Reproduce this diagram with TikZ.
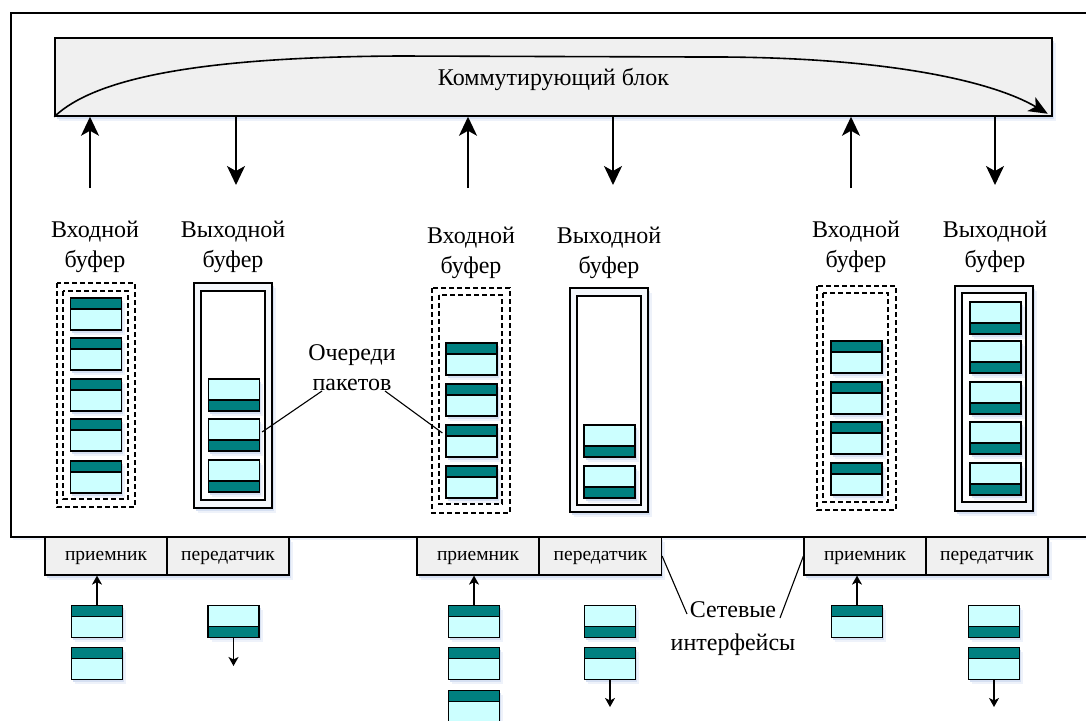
\documentclass[tikz,border=0pt]{standalone}
\usepackage{fontspec}
\setmainfont{Liberation Serif}
\usetikzlibrary{arrows.meta,shadows}

\definecolor{pktlight}{HTML}{CCFFFF}
\definecolor{pktdark}{HTML}{008080}
\definecolor{blockgray}{HTML}{F0F0F0}
\definecolor{bufshade}{HTML}{F4F7FB}
\definecolor{glowfar}{HTML}{EEF2FA}
\definecolor{glownear}{HTML}{D6E0F2}

\tikzset{
  glowshadow/.style={
      general shadow={fill=glowfar, shadow xshift=3.5pt, shadow yshift=-4.5pt},
      general shadow={fill=glownear, shadow xshift=1.5pt, shadow yshift=-2.5pt}},
  frame/.style={draw, line width=1.6pt, fill=white,
      general shadow={fill=glowfar, shadow xshift=2pt, shadow yshift=-3pt}},
  block/.style={draw, line width=1.5pt, fill=blockgray, inner sep=0pt,
      text height=18pt, text depth=2pt,
      font=\fontsize{24}{30}\selectfont, glowshadow},
  lab/.style={align=center, inner sep=0pt, font=\fontsize{24}{30}\selectfont},
  iface/.style={draw, line width=1.2pt, fill=blockgray, inner sep=0pt,
      minimum width=122pt, minimum height=38pt, text height=13pt, text depth=4pt,
      font=\fontsize{19.5}{23}\selectfont, glowshadow},
  inbuf/.style={draw, dashed, line width=1.4pt, dash pattern=on 5pt off 3pt},
  outbufo/.style={draw, line width=1.4pt, fill=bufshade, glowshadow},
  outbufi/.style={draw, line width=1.4pt, fill=white},
  pkt/.style={draw, line width=1.2pt, fill=pktlight, inner sep=0pt,
      minimum width=51pt, minimum height=32pt, glowshadow},
  pkttop/.style={pkt, path picture={
      \fill[pktdark] (path picture bounding box.north west) rectangle
          ([yshift=-11pt]path picture bounding box.north east);
      \draw[line width=1.2pt] ([yshift=-11pt]path picture bounding box.north west) --
          ([yshift=-11pt]path picture bounding box.north east);}},
  pktbot/.style={pkt, path picture={
      \fill[pktdark] (path picture bounding box.south west) rectangle
          ([yshift=11pt]path picture bounding box.south east);
      \draw[line width=1.2pt] ([yshift=11pt]path picture bounding box.south west) --
          ([yshift=11pt]path picture bounding box.south east);}},
  bigarrow/.style={line width=1.6pt, -{Stealth[length=19pt,width=18pt,inset=5pt]}},
  smallarrow/.style={line width=1.2pt, -{Stealth[length=9pt,width=10pt,inset=2.5pt]}},
  leader/.style={line width=1.1pt},
}

\begin{document}
\begin{tikzpicture}[x=1pt,y=-1pt]
\useasboundingbox (0,0) rectangle (1086,720);
\clip (0,0) rectangle (1086,720);

% enclosing switch frame
\draw[frame] (11,13) rectangle (1110,537);

% switching fabric with the transfer curve
\node[block, minimum width=997pt, minimum height=78pt] (sw) at (553.5,77) {Коммутирующий блок};
\coordinate (swend) at ([xshift=-5pt,yshift=3pt]sw.south east);
\draw[line width=1.6pt, -{Stealth[length=19pt,width=16pt,inset=5pt]}]
  (sw.south west) .. controls (95,78) and (200,57) .. (400,56)
  -- (700,57) .. controls (880,56) and (990,80) .. (swend);

% ports: arrows to and from the fabric
\coordinate (up1) at (90,188);
\coordinate (dn1) at (236,185);
\coordinate (up2) at (468,188);
\coordinate (dn2) at (613,185);
\coordinate (up3) at (851,188);
\coordinate (dn3) at (995,185);
\draw[bigarrow] (up1) -- (up1 |- sw.south);
\draw[bigarrow] (dn1 |- sw.south) -- (dn1);
\draw[bigarrow] (up2) -- (up2 |- sw.south);
\draw[bigarrow] (dn2 |- sw.south) -- (dn2);
\draw[bigarrow] (up3) -- (up3 |- sw.south);
\draw[bigarrow] (dn3 |- sw.south) -- (dn3);

% buffer captions
\node[lab] (lin1)  at (95,247)  {Входной\\буфер};
\node[lab] (lout1) at (233,247) {Выходной\\буфер};
\node[lab] (lin2)  at (471,253) {Входной\\буфер};
\node[lab] (lout2) at (609,253) {Выходной\\буфер};
\node[lab] (lin3)  at (856,247) {Входной\\буфер};
\node[lab] (lout3) at (995,247) {Выходной\\буфер};

% port 1 buffers
\draw[inbuf] (57,283) rectangle (135,507);
\draw[inbuf] (63,291) rectangle (128,499);
\node[pkttop] (ia1) at (96,314) {};
\node[pkttop] (ia2) at (96,354) {};
\node[pkttop] (ia3) at (96,395) {};
\node[pkttop] (ia4) at (96,435) {};
\node[pkttop] (ia5) at (96,477) {};
\draw[outbufo] (194,283) rectangle (272,508);
\draw[outbufi] (201,291) rectangle (265,500);
\node[pktbot] (oa1) at (234,395) {};
\node[pktbot] (oa2) at (234,435) {};
\node[pktbot] (oa3) at (234,476) {};

% port 2 buffers
\draw[inbuf] (432,288) rectangle (510,513);
\draw[inbuf] (439,295) rectangle (502,504);
\node[pkttop] (ib1) at (471.5,359) {};
\node[pkttop] (ib2) at (471.5,400) {};
\node[pkttop] (ib3) at (471.5,441) {};
\node[pkttop] (ib4) at (471.5,482) {};
\draw[outbufo] (570,288) rectangle (648,512);
\draw[outbufi] (577,296) rectangle (641,505);
\node[pktbot] (ob1) at (609.5,441) {};
\node[pktbot] (ob2) at (609.5,482) {};

% port 3 buffers
\draw[inbuf] (817,286) rectangle (896,510);
\draw[inbuf] (823,293) rectangle (888,502);
\node[pkttop] (ic1) at (856.5,357) {};
\node[pkttop] (ic2) at (856.5,398) {};
\node[pkttop] (ic3) at (856.5,438) {};
\node[pkttop] (ic4) at (856.5,479) {};
\draw[outbufo] (955,286) rectangle (1033,511);
\draw[outbufi] (962,293) rectangle (1026,502);
\node[pktbot] (oc1) at (995.5,318) {};
\node[pktbot] (oc2) at (995.5,357) {};
\node[pktbot] (oc3) at (995.5,398) {};
\node[pktbot] (oc4) at (995.5,438) {};
\node[pktbot] (oc5) at (995.5,479) {};

% queue caption with leaders
\node[lab] (queues) at (352,368) {Очереди\\пакетов};
\coordinate (ql) at (322,391);
\coordinate (qr) at (385,391);
\draw[leader] (ql) -- ([xshift=2pt,yshift=3pt]oa2.east);
\draw[leader] (qr) -- ([xshift=-3pt,yshift=8pt]ib3.west);

% network interfaces
\node[iface] (rx1) at (106,556)   {приемник};
\node[iface] (tx1) at (228,556)   {передатчик};
\node[iface] (rx2) at (478,556)   {приемник};
\node[iface] (tx2) at (600.5,556) {передатчик};
\node[iface] (rx3) at (865,556)   {приемник};
\node[iface] (tx3) at (987,556)   {передатчик};

% line-side packets
\node[pkttop] (ra1) at (97,621.5) {};
\node[pkttop] (ra2) at (97,663.5) {};
\draw[smallarrow] (ra1.north) -- (ra1.north |- rx1.south);
\node[pktbot] (ta1) at (233.5,621.5) {};
\coordinate (ta1end) at (233.5,666);
\draw[smallarrow] (ta1.south) -- (ta1end);

\node[pkttop] (rb1) at (474,621.5) {};
\node[pkttop] (rb2) at (474,663.5) {};
\node[pkttop] (rb3) at (474,706.5) {};
\draw[smallarrow] (rb1.north) -- (rb1.north |- rx2.south);
\node[pktbot] (tb1) at (610,621.5) {};
\node[pkttop] (tb2) at (610,663.5) {};
\coordinate (tb2end) at (610,707);
\draw[smallarrow] (tb2.south) -- (tb2end);

\node[pkttop] (rc1) at (857,621.5) {};
\draw[smallarrow] (rc1.north) -- (rc1.north |- rx3.south);
\node[pktbot] (tc1) at (994,621.5) {};
\node[pkttop] (tc2) at (994,663.5) {};
\coordinate (tc2end) at (994,707);
\draw[smallarrow] (tc2.south) -- (tc2end);

% interface caption with leaders
\node[align=center, inner sep=0pt, font=\fontsize{24}{33}\selectfont] (netif) at (733,629) {Сетевые\\интерфейсы};
\coordinate (nl) at (687,614);
\coordinate (nr) at (780,618);
\draw[leader] (tx2.east) -- (nl);
\draw[leader] (rx3.west) -- (nr);
\end{tikzpicture}
\end{document}
